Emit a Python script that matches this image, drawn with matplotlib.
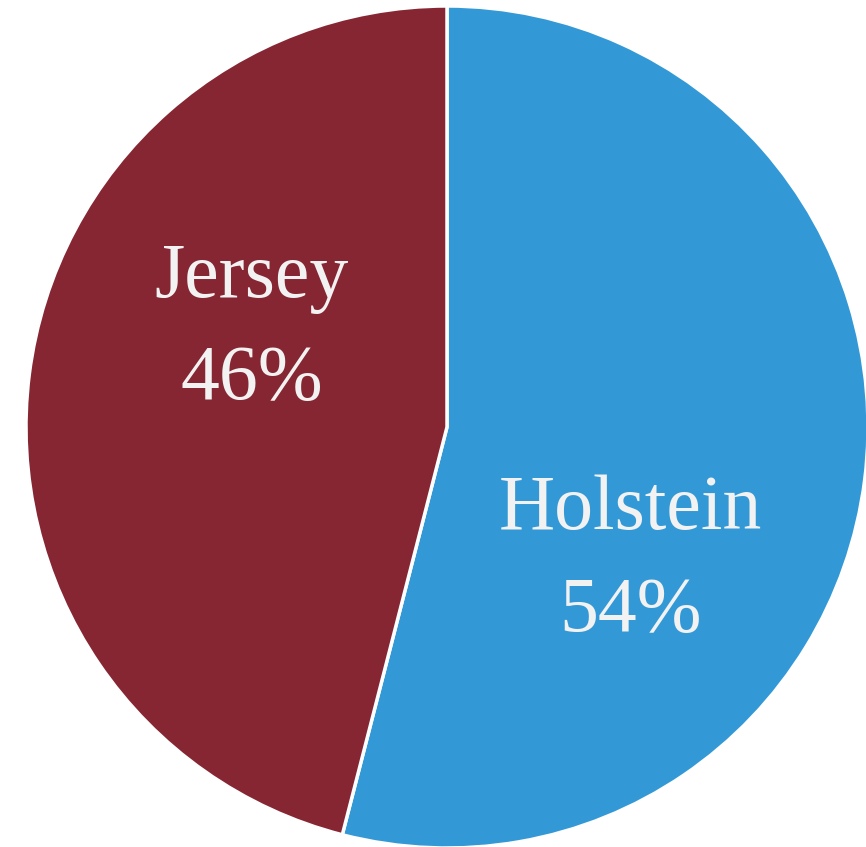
import matplotlib.pyplot as plt

# Breed share
breeds = ["Holstein", "Jersey"]
shares = [54, 46]
colors = ["#3399d6", "#862633"]

fig = plt.figure(figsize=(8.66, 8.47), dpi=100)
ax = fig.add_axes([0, 0, 1, 1])

wedges, texts = ax.pie(
    shares,
    colors=colors,
    startangle=90,
    counterclock=False,
    center=(447, 420),
    radius=421,
    wedgeprops={"edgecolor": "white", "linewidth": 2.5},
)

# labels placed inside each wedge
label_pos = {"Holstein": (630, 286), "Jersey": (252, 518)}
for name, val in zip(breeds, shares):
    x, y = label_pos[name]
    ax.text(x, y, f"{name}\n{val}%", ha="center", va="center",
            fontsize=56, color="#f2f2f2", family="Liberation Serif",
            linespacing=1.55)

ax.set_xlim(0, 866)
ax.set_ylim(0, 847)
ax.set_aspect("equal")
ax.axis("off")

fig.savefig("out.png", dpi=100)
